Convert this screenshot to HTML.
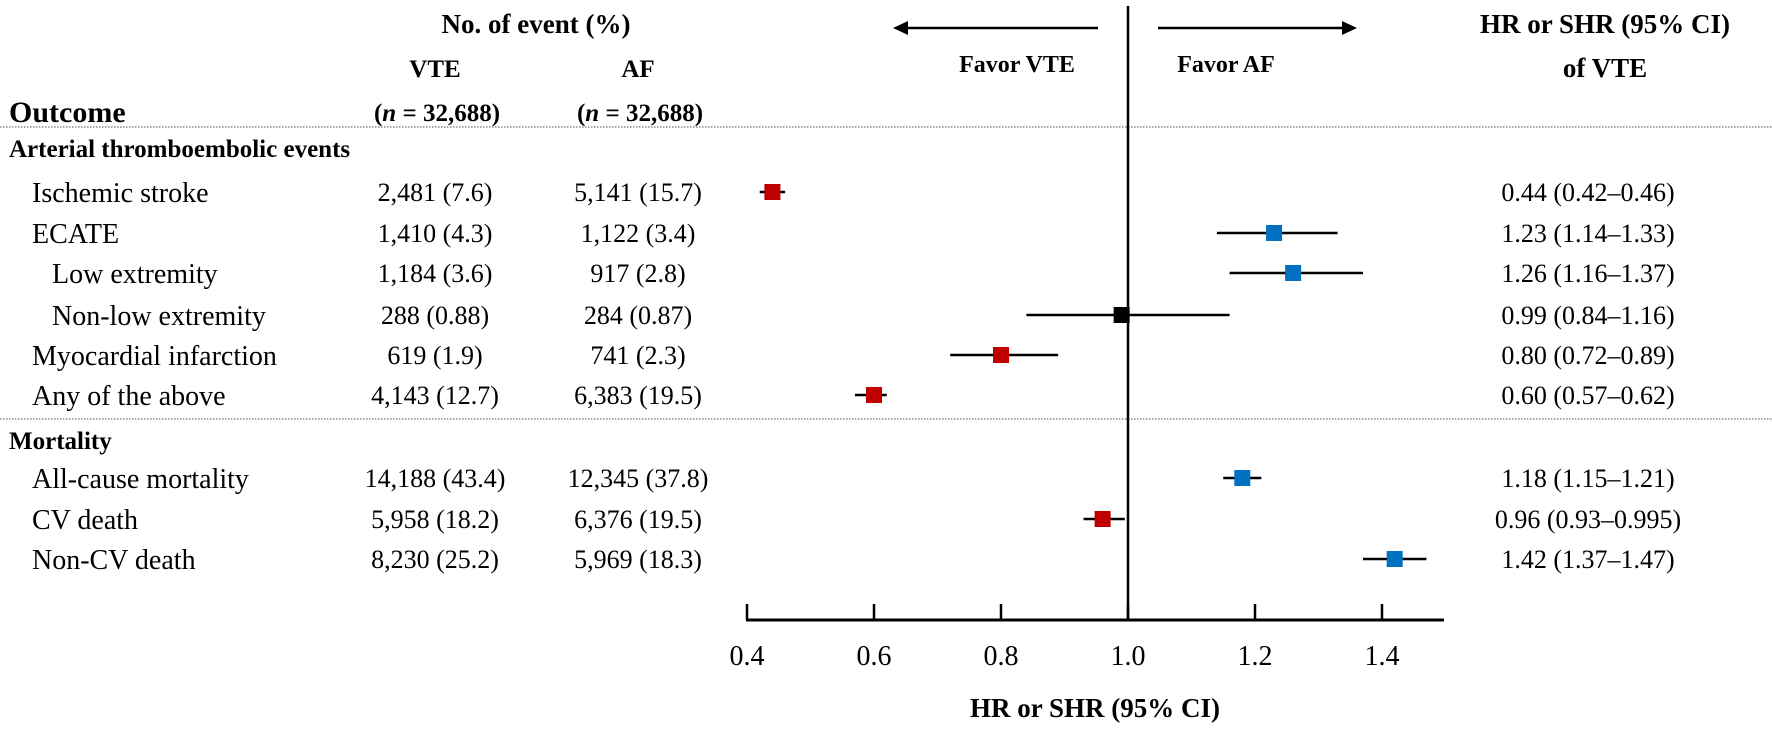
<!DOCTYPE html>
<html><head><meta charset="utf-8"><style>
html,body{margin:0;padding:0;background:#fff;width:1772px;height:729px;overflow:hidden}
svg{display:block;font-family:"Liberation Serif",serif}
.b{font-weight:bold}
</style></head><body>
<svg id="chart" width="1772" height="729" viewBox="0 0 1772 729" xmlns="http://www.w3.org/2000/svg">
<g id="static">
<text class="b" x="536" y="33" font-size="27" text-anchor="middle">No. of event (%)</text>
<text class="b" x="435" y="77" font-size="25" text-anchor="middle">VTE</text>
<text class="b" x="638" y="77" font-size="25" text-anchor="middle">AF</text>
<text class="b" x="437" y="121" font-size="25" text-anchor="middle">(<tspan font-style="italic">n</tspan> = 32,688)</text>
<text class="b" x="640" y="121" font-size="25" text-anchor="middle">(<tspan font-style="italic">n</tspan> = 32,688)</text>
<text class="b" x="9" y="122" font-size="30">Outcome</text>
<text class="b" x="1605" y="33" font-size="27" text-anchor="middle">HR or SHR (95% CI)</text>
<text class="b" x="1605" y="77" font-size="27" text-anchor="middle">of VTE</text>
<text class="b" x="1017" y="72" font-size="24" text-anchor="middle">Favor VTE</text>
<text class="b" x="1226" y="72" font-size="24" text-anchor="middle">Favor AF</text>
<line x1="905" y1="28" x2="1098" y2="28" stroke="#000" stroke-width="2.5"/>
<polygon points="893,28 908,21 908,35" fill="#000"/>
<line x1="1158" y1="28" x2="1345" y2="28" stroke="#000" stroke-width="2.5"/>
<polygon points="1357,28 1342,21 1342,35" fill="#000"/>
<line x1="0" y1="127" x2="1772" y2="127" stroke="#888" stroke-width="1.5" stroke-dasharray="1.5,1.5"/>
<line x1="0" y1="419" x2="1772" y2="419" stroke="#888" stroke-width="1.5" stroke-dasharray="1.5,1.5"/>
<text class="b" x="9" y="157" font-size="25">Arterial thromboembolic events</text>
<text class="b" x="9" y="449" font-size="25">Mortality</text>
<text class="b" x="1095" y="717" font-size="27" text-anchor="middle">HR or SHR (95% CI)</text>
</g>
<g id="rows"></g>
<g id="axis"></g>
</svg>
<script>
const labels = ["Ischemic stroke","ECATE","Low extremity","Non-low extremity","Myocardial infarction","Any of the above","All-cause mortality","CV death","Non-CV death"];
const indents = [1,1,2,2,1,1,1,1,1];
const vteEvents = ["2,481 (7.6)","1,410 (4.3)","1,184 (3.6)","288 (0.88)","619 (1.9)","4,143 (12.7)","14,188 (43.4)","5,958 (18.2)","8,230 (25.2)"];
const afEvents = ["5,141 (15.7)","1,122 (3.4)","917 (2.8)","284 (0.87)","741 (2.3)","6,383 (19.5)","12,345 (37.8)","6,376 (19.5)","5,969 (18.3)"];
const hr = [0.44,1.23,1.26,0.99,0.80,0.60,1.18,0.96,1.42];
const lo = [0.42,1.14,1.16,0.84,0.72,0.57,1.15,0.93,1.37];
const hi = [0.46,1.33,1.37,1.16,0.89,0.62,1.21,0.995,1.47];
const hrText = ["0.44 (0.42–0.46)","1.23 (1.14–1.33)","1.26 (1.16–1.37)","0.99 (0.84–1.16)","0.80 (0.72–0.89)","0.60 (0.57–0.62)","1.18 (1.15–1.21)","0.96 (0.93–0.995)","1.42 (1.37–1.47)"];
const ticks = [0.4,0.6,0.8,1.0,1.2,1.4];
const tickLabels = ["0.4","0.6","0.8","1.0","1.2","1.4"];

const NS="http://www.w3.org/2000/svg";
const xs = v => 1128 + (v-1.0)*635;
const rowY = [192,233,273,315,355,395,478,519,559];
function mk(tag, attrs, parent, txt){const e=document.createElementNS(NS,tag);for(const k in attrs)e.setAttribute(k,attrs[k]);if(txt!==undefined)e.textContent=txt;parent.appendChild(e);return e;}
const rows=document.getElementById('rows'), axis=document.getElementById('axis');
labels.forEach((lab,i)=>{
  const y=rowY[i];
  const g=mk('g',{},rows);
  
  
  const t1=mk('text',{x:indents[i]==2?52:32,y:y+10,'font-size':28},g,lab);
  
  
  const t2=mk('text',{x:435,y:y+9,'font-size':26,'text-anchor':'middle'},g,vteEvents[i]);
  
  
  const t3=mk('text',{x:638,y:y+9,'font-size':26,'text-anchor':'middle'},g,afEvents[i]);
  
  
  const t4=mk('text',{x:1588,y:y+9,'font-size':26,'text-anchor':'middle'},g,hrText[i]);
  
  
  const ci=mk('line',{x1:xs(lo[i]),x2:xs(hi[i]),y1:y,y2:y,stroke:'#000','stroke-width':2.5},g);
  
  
  const col = (hi[i]<1)?'#c00000':(lo[i]>1)?'#0070c0':'#000';
  const sq=mk('rect',{x:xs(hr[i])-8,y:y-8,width:16,height:16,fill:col},g);
  
  
});
const ref=mk('line',{x1:xs(1.0),x2:xs(1.0),y1:6,y2:620,stroke:'#000','stroke-width':2.5},axis);


const ax=mk('line',{x1:xs(0.4)-1,x2:1444,y1:620,y2:620,stroke:'#000','stroke-width':3},axis);


ticks.forEach((v,i)=>{
  const tk=mk('line',{x1:xs(v),x2:xs(v),y1:604,y2:620,stroke:'#000','stroke-width':2.5},axis);
  
  
  const tl=mk('text',{x:xs(v),y:665,'font-size':28,'text-anchor':'middle'},axis,tickLabels[i]);
  
  
});
</script>
</body></html>
